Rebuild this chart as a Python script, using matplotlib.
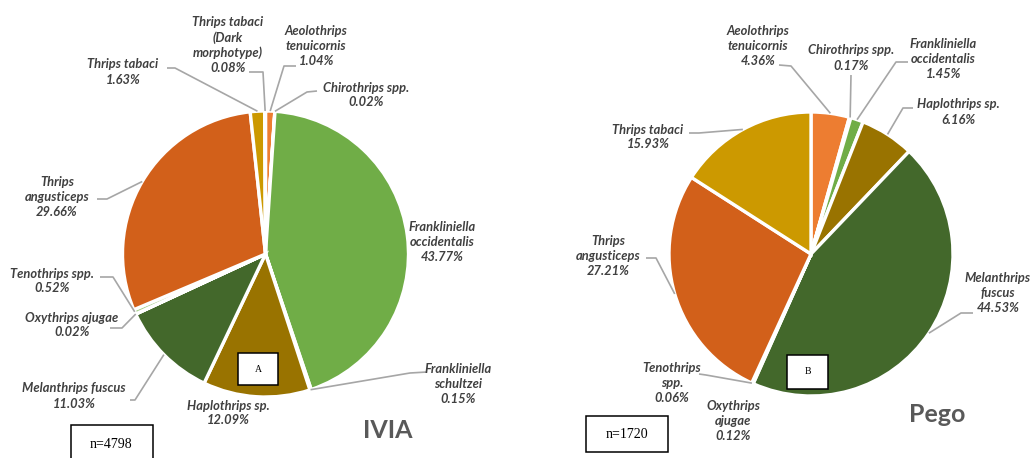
import numpy as np
import matplotlib
matplotlib.use("Agg")
import matplotlib.pyplot as plt
from matplotlib.patches import Rectangle

W, H = 1032, 458

# data ---------------------------------------------------------------
species = ["Aeolothrips tenuicornis", "Chirothrips spp.", "Frankliniella occidentalis",
           "Frankliniella schultzei", "Haplothrips sp.", "Melanthrips fuscus",
           "Oxythrips ajugae", "Tenothrips spp.", "Thrips angusticeps",
           "Thrips tabaci", "Thrips tabaci (Dark morphotype)"]
ivia_pct = [1.04, 0.02, 43.77, 0.15, 12.09, 11.03, 0.02, 0.52, 29.66, 1.63, 0.08]

pego_species = ["Aeolothrips tenuicornis", "Chirothrips spp.", "Frankliniella occidentalis",
                "Haplothrips sp.", "Melanthrips fuscus", "Oxythrips ajugae",
                "Tenothrips spp.", "Thrips angusticeps", "Thrips tabaci"]
pego_pct = [4.36, 0.17, 1.45, 6.16, 44.53, 0.12, 0.06, 27.21, 15.93]

colors = {"Aeolothrips tenuicornis": "#ED7D31", "Chirothrips spp.": "#A5A5A5",
          "Frankliniella occidentalis": "#70AD47", "Frankliniella schultzei": "#A5A5A5",
          "Haplothrips sp.": "#997300", "Melanthrips fuscus": "#43682B",
          "Oxythrips ajugae": "#264478", "Tenothrips spp.": "#A9D18E",
          "Thrips angusticeps": "#D2601A", "Thrips tabaci": "#CC9900",
          "Thrips tabaci (Dark morphotype)": "#7F6000"}

# label layout: text, text centre, leader points (image px; None = no leader)
ivia_labels = [
    ("Aeolothrips\ntenuicornis", (316, 46), [(284, 66), (296, 66)]),
    ("Chirothrips spp.", (366, 95), [(307, 92), (317, 91)]),
    ("Frankliniella\noccidentalis", (442, 242), None),
    ("Frankliniella\nschultzei", (458, 384), [(410, 373), (427, 372)]),
    ("Haplothrips sp.", (228, 413), None),
    ("Melanthrips fuscus", (74, 396), [(135, 400), (130, 400)]),
    ("Oxythrips ajugae", (72, 325), [(122, 328), (110, 328)]),
    ("Tenothrips spp.", (52, 281), [(113, 277), (100, 277)]),
    ("Thrips\nangusticeps", (57, 197), [(107, 199), (97, 199)]),
    ("Thrips tabaci", (123, 72), [(175, 68), (167, 68)]),
    ("Thrips tabaci\n(Dark\nmorphotype)", (228, 45), [(263, 72), (249, 72)]),
]
pego_labels = [
    ("Aeolothrips\ntenuicornis", (758, 46), [(791, 66), (779, 65)]),
    ("Chirothrips spp.", (851, 58), [(851, 75)]),
    ("Frankliniella\noccidentalis", (943, 59), [(896, 62), (908, 62)]),
    ("Haplothrips sp.", (958, 112), [(903, 108), (913, 108)]),
    ("Melanthrips\nfuscus", (998, 293), [(961, 313), (973, 313)]),
    ("Oxythrips\najugae", (733, 421), None),
    ("Tenothrips\nspp.", (672, 383), [(706, 375), (699, 374)]),
    ("Thrips\nangusticeps", (608, 256), [(656, 258), (646, 258)]),
    ("Thrips tabaci", (648, 137), [(699, 133), (689, 133)]),
]

LABEL_FONT = dict(family=["Lato", "DejaVu Sans"], style="italic", weight="bold",
                  size=9.3, color="#404040", ha="center", va="center",
                  linespacing=1.3)


def P(x, y):
    return (x, H - y)


fig = plt.figure(figsize=(W / 100, H / 100), dpi=100)
ax = fig.add_axes([0, 0, 1, 1])


def draw_pie(names, vals, centre, radius, labels):
    wedges, _ = ax.pie(vals, colors=[colors[n] for n in names], startangle=90,
                       counterclock=False, center=P(*centre), radius=radius,
                       wedgeprops=dict(edgecolor="white", linewidth=2.4))
    for w, v, (txt, pos, lead) in zip(wedges, vals, labels):
        ax.text(*P(*pos), f"{txt}\n{v:.2f}%", **LABEL_FONT)
        if lead is None:
            continue
        ang = np.deg2rad((w.theta1 + w.theta2) / 2)
        ax0 = w.center[0] + w.r * np.cos(ang)
        ay0 = w.center[1] + w.r * np.sin(ang)
        xs = [ax0] + [p[0] for p in lead]
        ys = [ay0] + [H - p[1] for p in lead]
        ax.plot(xs, ys, color="#A6A6A6", lw=1.2, solid_capstyle="butt")


draw_pie(species, ivia_pct, (265.5, 254), 143, ivia_labels)
draw_pie(pego_species, pego_pct, (811, 254), 142, pego_labels)

# site titles
ax.text(*P(388, 431), "IVIA", family=["Lato", "DejaVu Sans"], weight="bold",
        size=18, color="#595959", ha="center", va="center")
ax.text(*P(937, 414), "Pego", family=["Lato", "DejaVu Sans"], weight="bold",
        size=18, color="#595959", ha="center", va="center")

# boxes
def box(x0, y0, x1, y1, txt, size):
    ax.add_patch(Rectangle((x0, H - y1), x1 - x0, y1 - y0, facecolor="white",
                           edgecolor="black", lw=1.1, zorder=5))
    ax.text((x0 + x1) / 2, H - (y0 + y1) / 2, txt, family="Liberation Serif",
            size=size, ha="center", va="center", zorder=6)


box(238, 353, 278, 385, "A", 7)
box(787, 355, 828, 389, "B", 7)
box(71, 425, 153, 475, "", 10)
ax.text(*P(111, 444), "n=4798", family="Liberation Serif", size=10,
        ha="center", va="center", zorder=6)
box(586, 416, 668, 452, "n=1720", 10)

ax.set_xlim(0, W)
ax.set_ylim(0, H)
ax.set_aspect("equal")
ax.axis("off")

fig.savefig("out.png", dpi=100)
